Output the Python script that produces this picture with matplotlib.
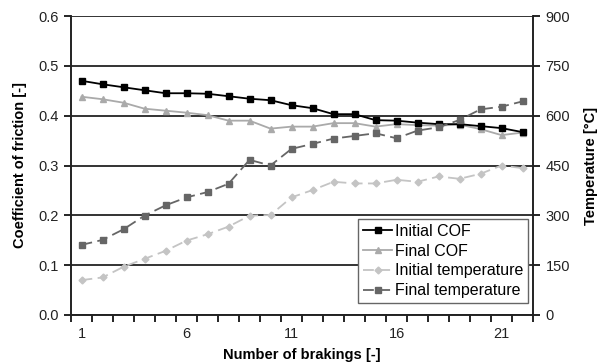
import numpy as np
import matplotlib.pyplot as plt
from matplotlib.ticker import FixedLocator, NullFormatter

plt.rcParams['font.family'] = ['Liberation Sans', 'DejaVu Sans']

# braking number
brakings = np.arange(1, 23)

# coefficient of friction [-]
initial_cof = [0.470, 0.463, 0.457, 0.451, 0.445, 0.445, 0.444, 0.439, 0.434, 0.431, 0.421,
               0.415, 0.403, 0.403, 0.391, 0.390, 0.386, 0.383, 0.383, 0.379, 0.375, 0.367]
final_cof = [0.438, 0.433, 0.426, 0.414, 0.410, 0.406, 0.401, 0.390, 0.390, 0.374, 0.378,
             0.378, 0.385, 0.385, 0.378, 0.383, 0.381, 0.380, 0.382, 0.373, 0.361, 0.366]

# disc temperature [°C]
initial_temp = [105, 113, 145, 169, 193, 224, 243, 266, 299, 301, 354,
                376, 401, 396, 396, 407, 401, 417, 410, 425, 450, 442]
final_temp = [211, 226, 258, 299, 330, 354, 370, 395, 467, 450, 500,
              515, 531, 539, 547, 532, 555, 565, 587, 619, 627, 643]

x_labels = [1, 6, 11, 16, 21]
cof_ticks = [0.0, 0.1, 0.2, 0.3, 0.4, 0.5, 0.6]
temp_ticks = [0, 150, 300, 450, 600, 750, 900]

fig = plt.figure(figsize=(5.97, 3.64), dpi=100)
ax = fig.add_axes([71 / 597, 1 - 315 / 364, (533 - 71) / 597, (315 - 16) / 364])
ax2 = ax.twinx()

for a in (ax, ax2):
    a.set_xlim(0.5, 22.5)
    a.spines['top'].set_visible(False)
    for s in ('left', 'right', 'bottom'):
        a.spines[s].set_linewidth(1.2)
        a.spines[s].set_color('#222222')

ax.set_ylim(0, 0.6)
ax2.set_ylim(0, 900)
ax.set_yticks(cof_ticks)
ax.set_yticklabels([f'{v:.1f}' for v in cof_ticks])
ax2.set_yticks(temp_ticks)
ax.grid(axis='y', color='#111111', lw=1.2)
ax.set_axisbelow(True)

# category boundaries carry the tick marks, labels sit on the categories
ax.xaxis.set_major_locator(FixedLocator(x_labels))
ax.xaxis.set_minor_locator(FixedLocator(np.arange(0.5, 23, 1)))
ax.xaxis.set_minor_formatter(NullFormatter())
ax.tick_params(axis='x', which='major', length=0, pad=9, labelsize=10.5, labelcolor='#222222')
ax.tick_params(axis='x', which='minor', length=5, width=1.2)
ax.tick_params(axis='y', length=5, width=1.2, labelsize=10.5, pad=4, labelcolor='#222222')
ax2.tick_params(axis='y', length=5, width=1.2, labelsize=10.5, pad=4, labelcolor='#222222')

l1, = ax.plot(brakings, initial_cof, color='black', lw=1.3, marker='s', ms=4.5,
              label='Initial COF', zorder=5)
l2, = ax.plot(brakings, final_cof, color='#aaaaaa', lw=1.3, marker='^', ms=4.5,
              label='Final COF', zorder=4)
l3, = ax2.plot(brakings, initial_temp, color='#c4c4c4', lw=1.3, ls=(0, (6, 3)),
               marker='D', ms=3.5, label='Initial temperature', zorder=3)
l4, = ax2.plot(brakings, final_temp, color='#666666', lw=1.3, ls=(0, (6, 3)),
               marker='s', ms=4.5, label='Final temperature', zorder=3)

ax.set_xlabel('Number of brakings [-]', fontsize=10.5, fontweight='bold', labelpad=5)
ax.set_ylabel('Coefficient of friction [-]', fontsize=10.5, fontweight='bold', labelpad=8)
ax2.set_ylabel('Temperature [°C]', fontsize=10.5, fontweight='bold', labelpad=10)

leg = ax2.legend(handles=[l1, l2, l3, l4], loc='lower right', bbox_to_anchor=(0.99, 0.04),
                 fontsize=11.5, frameon=True, fancybox=False, handlelength=1.8,
                 handletextpad=0.2, borderpad=0.3, labelspacing=0.3, borderaxespad=0)
leg.get_frame().set_edgecolor('#666666')
leg.get_frame().set_linewidth(1.0)
leg.get_frame().set_facecolor('white')
leg.get_frame().set_alpha(1)
leg.set_zorder(10)

fig.savefig('out.png', dpi=100)
